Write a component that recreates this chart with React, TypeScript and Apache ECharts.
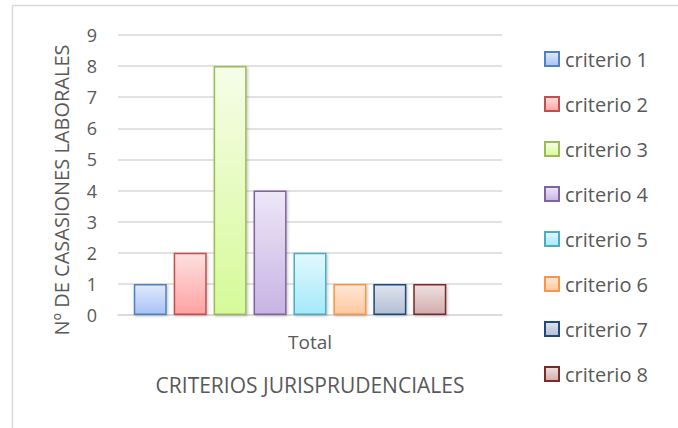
import React, { useEffect, useRef } from "react";
import * as echarts from "echarts";

const categories = ["Total"];
const seriesNames = [
  "criterio 1",
  "criterio 2",
  "criterio 3",
  "criterio 4",
  "criterio 5",
  "criterio 6",
  "criterio 7",
  "criterio 8",
];
const seriesValues = [1, 2, 8, 4, 2, 1, 1, 1];
const yTicks = [0, 1, 2, 3, 4, 5, 6, 7, 8, 9];

const palette = [
  { top: "#e1e9fc", bottom: "#a7c2f6", border: "#4f81bd" },
  { top: "#fde0e0", bottom: "#ffa2a2", border: "#c0504d" },
  { top: "#f6fde8", bottom: "#d6fa98", border: "#9bbb59" },
  { top: "#ede7f6", bottom: "#c8b3e3", border: "#8064a2" },
  { top: "#e2f8fd", bottom: "#a4e9fb", border: "#4bacc6" },
  { top: "#fee7d7", bottom: "#ffc89e", border: "#f79646" },
  { top: "#dfe4ee", bottom: "#b3bfd5", border: "#1f497d" },
  { top: "#efe0e0", bottom: "#d2acac", border: "#772c2a" },
];

const FONT = "'Open Sans', sans-serif";
const TXT = "#595959";

export default function App() {
  const ref = useRef<HTMLDivElement>(null);
  useEffect(() => {
    document.body.style.margin = "0";
    const chart = echarts.init(ref.current!, null, { renderer: "svg" });
    const series: any[] = seriesNames.map((name, i) => ({
      name,
      type: "bar",
      barWidth: 33,
      barGap: "21%",
      data: [seriesValues[i]],
      itemStyle: {
        color: new echarts.graphic.LinearGradient(0, 0, 0, 1, [
          { offset: 0, color: palette[i].top },
          { offset: 1, color: palette[i].bottom },
        ]),
        borderColor: palette[i].border,
        borderWidth: 1.5,
        shadowColor: "rgba(0,0,0,0.25)",
        shadowBlur: 3,
        shadowOffsetX: 1,
        shadowOffsetY: 1,
      },
    }));
    // empty slot (blank ninth column in the source chart)
    series.push({
      name: "_blank",
      type: "bar",
      barWidth: 33,
      barGap: "21%",
      data: [null],
    });
    chart.setOption({
      animation: false,
      textStyle: { fontFamily: FONT },
      graphic: [
        {
          type: "rect",
          shape: { x: 12.5, y: 5.5, width: 800, height: 600 },
          style: { fill: "none", stroke: "#d9d9d9", lineWidth: 1.5 },
          silent: true,
        },
      ],
      grid: { left: 118, right: 176, top: 35, bottom: 113 },
      legend: {
        orient: "vertical",
        left: 539,
        top: 44,
        itemWidth: 14,
        itemHeight: 14,
        itemGap: 25,
        data: seriesNames,
        icon: "rect",
        textStyle: {
          fontFamily: FONT,
          fontSize: 20,
          color: TXT,
          lineHeight: 20,
          padding: [0, 0, 0, 1],
        },
      },
      xAxis: {
        type: "category",
        data: categories,
        axisLine: { lineStyle: { color: "#d9d9d9", width: 1.5 } },
        axisTick: { show: false },
        axisLabel: { fontSize: 19, color: TXT, margin: 17, fontFamily: FONT },
        name: "CRITERIOS JURISPRUDENCIALES",
        nameLocation: "middle",
        nameGap: 59,
        nameTextStyle: { fontSize: 21, color: TXT, fontFamily: FONT },
      },
      yAxis: {
        type: "value",
        min: yTicks[0],
        max: yTicks[yTicks.length - 1],
        interval: 1,
        axisLine: { show: false },
        axisTick: { show: false },
        splitLine: { lineStyle: { color: "#d9d9d9", width: 1.5 } },
        axisLabel: { fontSize: 18, color: TXT, margin: 21, fontFamily: FONT },
        name: "Nº DE CASASIONES LABORALES",
        nameLocation: "middle",
        nameGap: 47,
        nameTextStyle: {
          fontSize: 20,
          color: TXT,
          fontFamily: FONT,
          padding: [0, 30, 0, 0],
        },
      },
      series,
    });
    return () => chart.dispose();
  }, []);
  return (
    <div
      ref={ref}
      style={{ position: "fixed", left: 0, top: 0, width: 678, height: 428, background: "#fff" }}
    />
  );
}
